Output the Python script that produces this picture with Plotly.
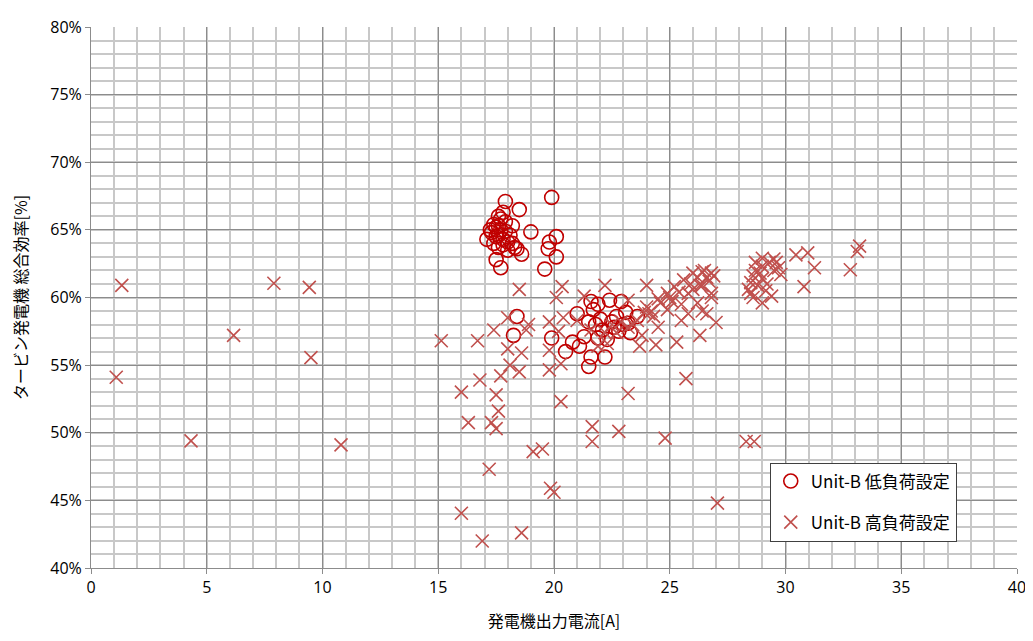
import plotly.graph_objects as go

# 低負荷設定 (circles)
low_x = [17.9, 19.9, 18.5, 17.8, 17.7, 17.6, 17.5, 17.25, 17.6, 17.8, 18.1, 17.1, 17.4, 19.0, 20.1,
         19.8, 19.75, 20.1, 18.6, 18.3, 17.5, 17.7, 19.6, 18.0, 17.6, 18.2, 17.4, 17.7, 17.9, 17.5,
         17.8, 18.0, 17.3, 17.9, 18.2, 17.6, 18.4,
         18.4, 18.25, 19.9, 20.5, 20.8, 21.1, 21.6, 21.5, 22.2, 21.0, 21.6, 21.7, 21.9, 22.4,
         22.9, 22.7, 21.8, 22.1, 22.5, 23.0, 23.3, 23.6, 22.3, 21.9, 21.3, 23.1, 22.8, 23.2,
         22.0, 22.6, 21.5]
low_y = [67.1, 67.4, 66.5, 66.3, 65.8, 66.0, 65.2, 65.0, 64.6, 64.3, 64.6, 64.3, 64.0, 64.85, 64.5,
         64.1, 63.6, 63.0, 63.2, 63.7, 62.8, 62.2, 62.1, 64.1, 63.7, 65.3, 65.4, 65.0, 64.9, 64.5,
         63.9, 63.5, 64.8, 65.6, 64.0, 65.3, 63.6,
         58.6, 57.2, 57.0, 56.0, 56.7, 56.4, 55.6, 54.9, 55.6, 58.8, 59.7, 59.1, 59.5, 59.8,
         59.7, 58.6, 58.0, 57.6, 58.2, 58.0, 57.4, 58.6, 56.9, 57.0, 57.1, 58.9, 57.5, 58.1,
         58.4, 57.8, 58.2]

# 高負荷設定 (crosses)
high_x = [1.33, 7.9, 9.43, 6.16, 9.5, 1.09, 4.32, 10.8, 15.13,
          16.7, 17.4, 18.0, 18.8, 18.6, 18.0, 18.1, 18.5, 17.7, 16.8, 16.0, 17.5, 17.6, 16.3, 17.3,
          17.5, 19.8, 20.4, 20.1, 19.8, 19.8, 20.3, 19.1, 19.5, 21.65, 21.65, 22.8, 20.2,
          17.2, 19.85, 20.0, 16.0, 18.6, 16.9,
          23.2, 24.8, 28.3, 28.65, 27.06, 25.7,
          30.45, 30.96, 31.25, 30.8, 32.8, 33.2, 33.1, 27.0,
          18.5, 18.9,
          20.35, 22.2, 21.3, 24.0, 23.2, 20.3, 23.7, 24.4, 23.8, 25.3, 26.3, 26.2, 25.5, 24.9, 24.3,
          24.5, 25.2, 25.6, 26.0, 26.5, 26.8, 26.4, 26.8, 25.8, 24.9, 24.0, 23.6, 23.2, 22.7, 22.2,
          22.3, 21.9, 21.6, 21.0, 24.5, 25.5, 25.8, 26.6,
          24.2, 24.6, 25.0, 25.4, 25.9, 26.2, 26.6, 26.9, 24.1, 23.9, 22.9, 22.5, 23.4, 25.1, 26.0, 26.7,
          28.4, 28.5, 28.7, 28.7, 29.0, 29.3, 29.5, 29.5, 29.0, 29.4, 28.6, 29.7, 29.15, 28.9, 28.5,
          29.2, 29.8, 29.0, 28.8, 29.6, 28.6, 29.0,
          26.4, 26.3, 26.8, 26.4]
high_y = [60.9, 61.05, 60.75, 57.2, 55.55, 54.1, 49.4, 49.1, 56.8,
          56.8, 57.6, 58.5, 57.6, 55.9, 56.2, 55.0, 54.5, 54.2, 53.9, 53.0, 52.8, 51.6, 50.75, 50.75,
          50.3, 58.2, 58.5, 60.0, 56.1, 54.65, 52.3, 48.6, 48.8, 50.45, 49.35, 50.1, 57.5,
          47.3, 45.9, 45.6, 44.05, 42.6, 42.0,
          52.9, 49.6, 49.35, 49.35, 44.8, 54.0,
          63.15, 63.3, 62.2, 60.8, 62.05, 63.8, 63.4, 58.15,
          60.6, 58.0,
          60.8, 60.9, 60.1, 60.9, 59.8, 55.1, 56.4, 56.5, 57.2, 56.7, 57.2, 59.6, 59.5, 59.1, 58.6,
          59.9, 60.8, 61.3, 61.8, 62.0, 61.8, 60.9, 60.3, 60.3, 60.3, 59.3, 58.3, 57.8, 57.4, 57.4,
          56.6, 56.4, 57.6, 58.3, 57.8, 58.3, 58.8, 58.8,
          59.0, 59.6, 60.0, 60.4, 61.0, 61.5, 61.5, 61.6, 58.8, 58.9, 58.2, 58.0, 58.0, 59.7, 60.6, 61.2,
          60.6, 61.1, 62.0, 62.6, 62.9, 62.6, 62.85, 62.0, 61.4, 60.1, 60.0, 62.2, 60.5, 61.8, 60.3,
          61.0, 61.7, 62.3, 60.9, 62.6, 61.6, 59.6,
          61.9, 60.9, 60.0, 59.0]

x_ticks = [0, 5, 10, 15, 20, 25, 30, 35, 40]
y_ticks = [40, 45, 50, 55, 60, 65, 70, 75, 80]
y_tick_labels = [f"{v}%" for v in y_ticks]

series_low = "Unit-B 低負荷設定"
series_high = "Unit-B 高負荷設定"

font_tick = "Open Sans, Noto Sans CJK JP, sans-serif"
font_jp = "Noto Sans CJK JP, sans-serif"

fig = go.Figure()
fig.add_trace(go.Scatter(
    x=low_x, y=low_y, mode="markers", name=series_low, legendgroup="a",
    marker=dict(symbol="circle-open", size=14, color="#C00000", line=dict(width=1.6, color="#C00000")),
))
fig.add_trace(go.Scatter(
    x=high_x, y=high_y, mode="markers", name=series_high, legendgroup="b",
    marker=dict(symbol="x-thin-open", size=13, color="#C0504D", line=dict(width=1.6, color="#C0504D")),
))

fig.update_layout(
    width=1033, height=641,
    margin=dict(l=83, r=24, t=19, b=81, autoexpand=False),
    paper_bgcolor="white", plot_bgcolor="white",
    font=dict(family=font_tick, size=16, color="#000000"),
    showlegend=True,
    legend=dict(
        x=0.733, y=0.195, xanchor="left", yanchor="top",
        bgcolor="white", bordercolor="#404040", borderwidth=1,
        font=dict(family=font_jp, size=17, color="#000000"),
        traceorder="grouped", tracegroupgap=16,
        itemwidth=30,
    ),
)
fig.update_xaxes(
    range=[0, 40], tickvals=x_ticks, ticktext=[str(v) for v in x_ticks],
    automargin=False,
    showgrid=True, gridcolor="#8C8C8C", gridwidth=1,
    minor=dict(dtick=1, showgrid=True, gridcolor="#C8C8C8", gridwidth=1.5),
    showline=True, linecolor="#8C8C8C", linewidth=1,
    ticks="outside", ticklen=5, tickcolor="#8C8C8C",
    tickfont=dict(size=16),
    zeroline=False,
    title=dict(text="発電機出力電流[A]", font=dict(family=font_jp, size=16), standoff=18),
)
fig.update_yaxes(
    range=[40, 80], tickvals=y_ticks, ticktext=y_tick_labels,
    automargin=False,
    showgrid=True, gridcolor="#8C8C8C", gridwidth=1,
    minor=dict(dtick=1, showgrid=True, gridcolor="#C8C8C8", gridwidth=1.5),
    showline=True, linecolor="#8C8C8C", linewidth=1,
    ticks="outside", ticklen=5, tickcolor="#8C8C8C",
    tickfont=dict(size=16),
    zeroline=False,
    title=dict(text="タービン発電機 総合効率[%]", font=dict(family=font_jp, size=16), standoff=20),
)

fig.write_html("out.html")
